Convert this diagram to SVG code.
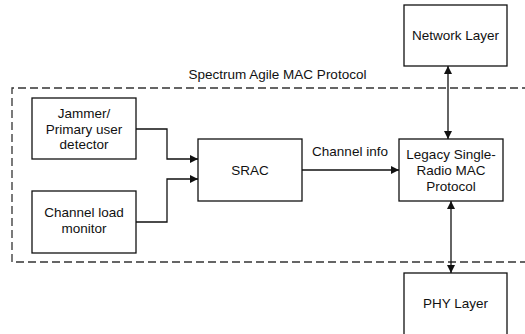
<svg xmlns="http://www.w3.org/2000/svg" width="525" height="334" viewBox="0 0 525 334">
<style>
.box{fill:#fff;stroke:#111;stroke-width:1.3}
.t{font-family:"Liberation Sans",Arial,sans-serif;font-size:13.5px;fill:#111;text-anchor:middle}
.c{fill:none;stroke:#111;stroke-width:1.3}
</style>
<defs>
<marker id="ah" viewBox="0 0 10 10" refX="10" refY="5" markerWidth="8" markerHeight="8" markerUnits="userSpaceOnUse" orient="auto-start-reverse">
<path d="M0,0 L10,5 L0,10 z" fill="#111"/>
</marker>
</defs>
<rect width="525" height="334" fill="#fff"/>
<g id="container">
<path d="M530,88 H12 V262 H530" fill="none" stroke="#333" stroke-width="1.3" stroke-dasharray="8,4"/>
<text class="t" x="277.5" y="79">Spectrum Agile MAC Protocol</text>
</g>
<g id="jammer">
<rect class="box" x="32" y="98" width="104" height="61"/>
<text class="t" x="84" y="118">Jammer/</text>
<text class="t" x="84" y="133.5">Primary user</text>
<text class="t" x="84" y="149">detector</text>
</g>
<g id="load">
<rect class="box" x="32" y="191" width="104" height="62"/>
<text class="t" x="84" y="217">Channel load</text>
<text class="t" x="84" y="233">monitor</text>
</g>
<g id="srac">
<rect class="box" x="198" y="139" width="104" height="62"/>
<text class="t" x="250" y="175">SRAC</text>
</g>
<g id="legacy">
<rect class="box" x="399" y="139" width="104" height="62"/>
<text class="t" x="451" y="159">Legacy Single-</text>
<text class="t" x="451" y="175">Radio MAC</text>
<text class="t" x="451" y="191">Protocol</text>
</g>
<g id="network">
<rect class="box" x="404" y="5" width="103" height="61"/>
<text class="t" x="455.5" y="40">Network Layer</text>
</g>
<g id="phy">
<rect class="box" x="404" y="273" width="103" height="70"/>
<text class="t" x="455.5" y="308">PHY Layer</text>
</g>
<g id="connectors">
<path class="c" d="M136,129 H167 V159 H198" marker-end="url(#ah)"/>
<path class="c" d="M136,222 H167 V179 H198" marker-end="url(#ah)"/>
<path class="c" d="M302,170 H399" marker-end="url(#ah)"/>
<text class="t" x="350" y="156">Channel info</text>
<path class="c" d="M448,66 V139" marker-start="url(#ah)" marker-end="url(#ah)"/>
<path class="c" d="M451,201 V273" marker-start="url(#ah)" marker-end="url(#ah)"/>
</g>
</svg>
